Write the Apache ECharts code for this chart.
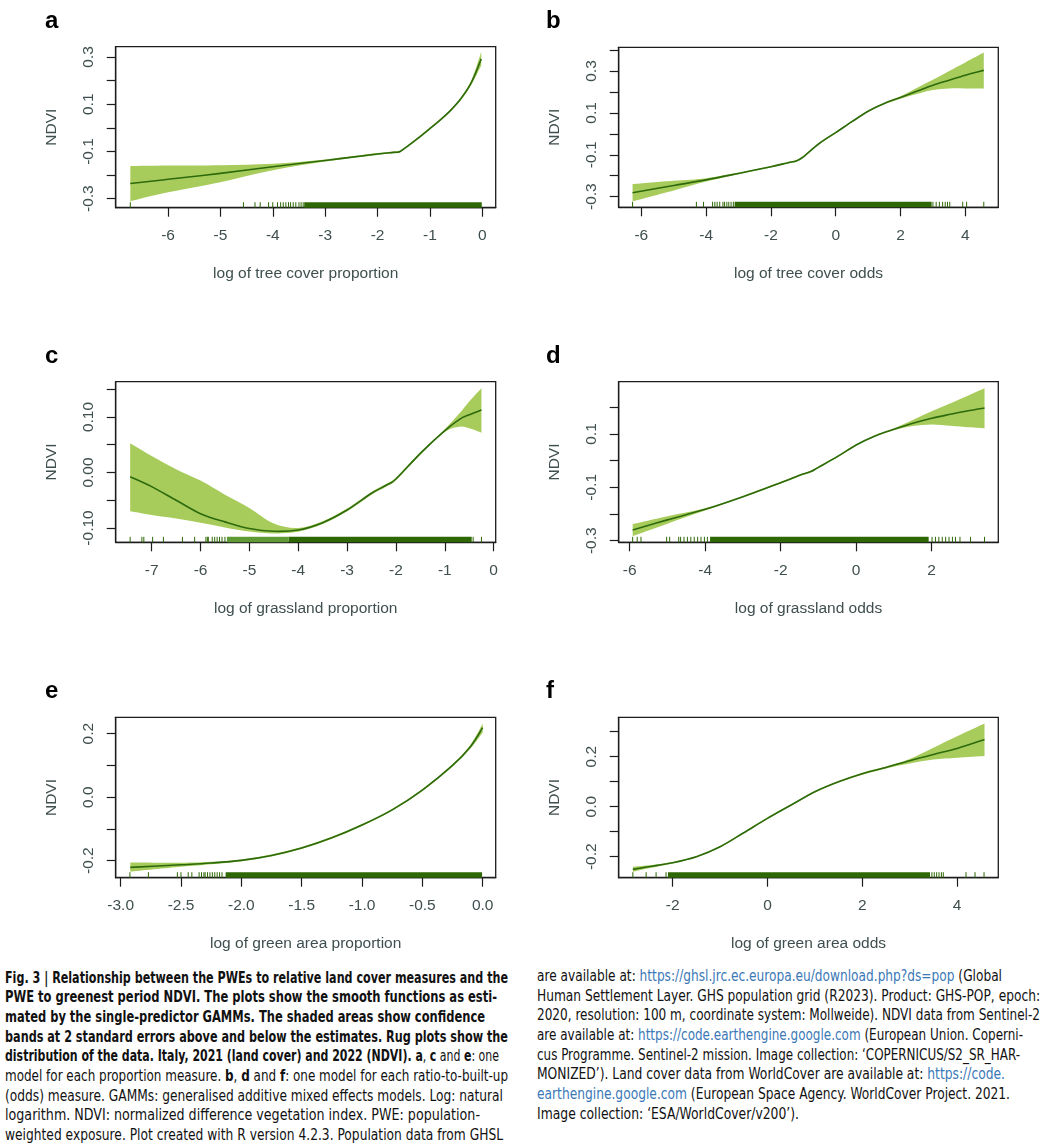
<!DOCTYPE html>
<html><head><meta charset="utf-8">
<script src="https://cdn.jsdelivr.net/npm/echarts@6/dist/echarts.min.js"></script>
<style>
html,body{margin:0;padding:0;background:#fff;}
#chart{position:absolute;left:0;top:0;width:1061px;height:960px;}
.cap{position:absolute;font-family:"Liberation Sans Narrow","DejaVu Sans Condensed","Liberation Sans",sans-serif;font-size:15px;line-height:19.7px;color:#111;}
.cap div{white-space:nowrap;transform-origin:0 50%;display:block;width:max-content;}
.cap b{font-weight:bold}
.cap .lk{color:#3a78b6}
</style></head><body>
<div id="chart"></div>
<div class="cap" id="capL" style="left:5px;top:968.5px;">
<div data-w="503"><b>Fig. 3 | Relationship between the PWEs to relative land cover measures and the</b></div>
<div data-w="492"><b>PWE to greenest period NDVI. The plots show the smooth functions as esti-</b></div>
<div data-w="480"><b>mated by the single-predictor GAMMs. The shaded areas show confidence</b></div>
<div data-w="503"><b>bands at 2 standard errors above and below the estimates. Rug plots show the</b></div>
<div data-w="494"><b>distribution of the data. Italy, 2021 (land cover) and 2022 (NDVI). a</b>, <b>c</b> and <b>e</b>: one</div>
<div data-w="503">model for each proportion measure. <b>b</b>, <b>d</b> and <b>f</b>: one model for each ratio-to-built-up</div>
<div data-w="498">(odds) measure. GAMMs: generalised additive mixed effects models. Log: natural</div>
<div data-w="475">logarithm. NDVI: normalized difference vegetation index. PWE: population-</div>
<div data-w="498">weighted exposure. Plot created with R version 4.2.3. Population data from GHSL</div>
</div>
<div class="cap" id="capR" style="left:537px;top:966.8px;">
<div data-w="465">are available at: <span class="lk">https://ghsl.jrc.ec.europa.eu/download.php?ds=pop</span> (Global</div>
<div data-w="503">Human Settlement Layer. GHS population grid (R2023). Product: GHS-POP, epoch:</div>
<div data-w="503">2020, resolution: 100 m, coordinate system: Mollweide). NDVI data from Sentinel-2</div>
<div data-w="486">are available at: <span class="lk">https://code.earthengine.google.com</span> (European Union. Coperni-</div>
<div data-w="483">cus Programme. Sentinel-2 mission. Image collection: ‘COPERNICUS/S2_SR_HAR-</div>
<div data-w="468">MONIZED’). Land cover data from WorldCover are available at: <span class="lk">https://code.</span></div>
<div data-w="473"><span class="lk">earthengine.google.com</span> (European Space Agency. WorldCover Project. 2021.</div>
<div data-w="262">Image collection: ‘ESA/WorldCover/v200’).</div>
</div>
<script>
// ---------------- DATA ----------------
const yTitle = 'NDVI';
// panel a: log of tree cover proportion
const aTitle = 'log of tree cover proportion';
const aX     = [-6.72, -6.0, -5.0, -4.0, -3.0, -2.0, -1.7, -1.57, -1.4, -1.2, -1.0, -0.8, -0.6, -0.4, -0.2, -0.02];
const aFit   = [-0.236, -0.218, -0.193, -0.165, -0.138, -0.111, -0.104, -0.100, -0.073, -0.039, -0.003, 0.034, 0.075, 0.126, 0.196, 0.292];
const aUpper = [-0.162, -0.160, -0.158, -0.152, -0.134, -0.107, -0.100, -0.096, -0.069, -0.035, 0.001, 0.038, 0.080, 0.132, 0.206, 0.322];
const aLower = [-0.311, -0.273, -0.230, -0.180, -0.143, -0.115, -0.108, -0.104, -0.077, -0.043, -0.007, 0.030, 0.070, 0.120, 0.186, 0.264];
const aRug   = [-6.72, -4.56, -4.34, -4.24, -4.08, -4.0, -3.91, -3.85, -3.8, -3.75, -3.7, -3.66, -3.61, -3.56, -3.5, -3.46, -3.42];
const aRugDense  = [[-3.40, -0.01]];
const aRugSparse = [];
const aXTicks = [-6, -5, -4, -3, -2, -1, 0];
const aYTicks = [-0.3, -0.2, -0.1, 0, 0.1, 0.2, 0.3];
const aYLabels = [-0.3, -0.1, 0.1, 0.3];

// panel b: log of tree cover odds
const bTitle = 'log of tree cover odds';
const bX     = [-6.27, -5.0, -4.0, -3.0, -2.0, -1.5, -1.2, -1.0, -0.9, -0.5, 0.0, 0.5, 1.0, 1.5, 2.0, 2.5, 3.0, 3.5, 4.0, 4.57];
const bFit   = [-0.281, -0.247, -0.220, -0.189, -0.157, -0.139, -0.128, -0.110, -0.097, -0.045, 0.006, 0.058, 0.108, 0.145, 0.174, 0.203, 0.232, 0.256, 0.280, 0.303];
const bUpper = [-0.240, -0.224, -0.212, -0.185, -0.153, -0.135, -0.124, -0.106, -0.093, -0.041, 0.010, 0.062, 0.112, 0.149, 0.180, 0.219, 0.258, 0.300, 0.341, 0.388];
const bLower = [-0.322, -0.270, -0.228, -0.193, -0.161, -0.143, -0.132, -0.114, -0.101, -0.049, 0.002, 0.054, 0.104, 0.141, 0.168, 0.190, 0.209, 0.217, 0.217, 0.217];
const bRug   = [-6.27, -4.30, -4.08, -3.80, -3.73, -3.66, -3.58, -3.48, -3.43, -3.36, -3.30, -3.23, -3.16, 3.0, 3.1, 3.2, 3.3, 3.38, 3.45, 3.52, 3.92, 4.04, 4.57];
const bRugDense  = [[-3.12, 2.96]];
const bRugSparse = [];
const bXTicks = [-6, -4, -2, 0, 2, 4];
const bYTicks = [-0.3, -0.2, -0.1, 0, 0.1, 0.2, 0.3, 0.4];
const bYLabels = [-0.3, -0.1, 0.1, 0.3];

// panel c: log of grassland proportion
const cTitle = 'log of grassland proportion';
const cX     = [-7.44, -7.0, -6.5, -6.0, -5.5, -5.0, -4.5, -4.0, -3.5, -3.0, -2.5, -2.2, -2.0, -1.5, -1.0, -0.7, -0.5, -0.25];
const cFit   = [-0.0075, -0.0255, -0.050, -0.0742, -0.089, -0.101, -0.106, -0.1036, -0.0904, -0.0676, -0.0375, -0.0231, -0.0117, 0.0345, 0.0754, 0.0958, 0.104, 0.1126];
const cUpper = [0.0526, 0.0297, 0.0060, -0.0145, -0.040, -0.064, -0.092, -0.100, -0.088, -0.065, -0.0350, -0.0206, -0.0092, 0.0370, 0.0780, 0.1066, 0.128, 0.1517];
const cLower = [-0.070, -0.0766, -0.083, -0.0905, -0.099, -0.1065, -0.110, -0.107, -0.093, -0.070, -0.0400, -0.0256, -0.0142, 0.0320, 0.0728, 0.0826, 0.0796, 0.0718];
const cRug   = [-7.44, -7.2, -7.16, -6.98, -6.76, -6.37, -6.12, -5.89, -5.86, -5.84, -5.76, -5.71, -5.66, -5.61, -5.56, -5.5, -0.42, -0.25];
const cRugDense  = [[-4.2, -0.45]];
const cRugSparse = [[-5.46, -4.2]];
const cXTicks = [-7, -6, -5, -4, -3, -2, -1, 0];
const cYTicks = [-0.10, -0.05, 0, 0.05, 0.10, 0.15];
const cYLabels = [-0.10, 0, 0.10];

// panel d: log of grassland odds
const dTitle = 'log of grassland odds';
const dX     = [-5.92, -5.0, -4.0, -3.0, -2.0, -1.5, -1.2, -1.0, -0.5, 0.0, 0.5, 1.0, 1.5, 2.0, 2.5, 3.0, 3.4];
const dFit   = [-0.260, -0.222, -0.1825, -0.135, -0.0825, -0.055, -0.041, -0.025, 0.015, 0.059, 0.0925, 0.1175, 0.140, 0.159, 0.174, 0.188, 0.1975];
const dUpper = [-0.2375, -0.208, -0.178, -0.132, -0.0795, -0.052, -0.038, -0.022, 0.018, 0.062, 0.0955, 0.121, 0.1525, 0.185, 0.215, 0.246, 0.271];
const dLower = [-0.2825, -0.236, -0.187, -0.138, -0.0855, -0.058, -0.044, -0.028, 0.012, 0.056, 0.0895, 0.114, 0.130, 0.136, 0.131, 0.125, 0.121];
const dRug   = [-5.92, -5.80, -5.70, -5.02, -4.94, -4.70, -4.65, -4.56, -4.47, -4.38, -4.29, -4.2, -4.11, -4.02, -3.94, 2.01, 2.1, 2.19, 2.28, 2.37, 2.46, 2.55, 2.63, 2.75, 3.03, 3.40];
const dRugDense  = [[-3.87, 1.92]];
const dRugSparse = [];
const dXTicks = [-6, -4, -2, 0, 2];
const dYTicks = [-0.3, -0.2, -0.1, 0, 0.1, 0.2];
const dYLabels = [-0.3, -0.1, 0.1];

// panel e: log of green area proportion
const eTitle = 'log of green area proportion';
const eX     = [-2.92, -2.5, -2.25, -2.0, -1.75, -1.5, -1.25, -1.0, -0.75, -0.5, -0.25, -0.1, 0.0];
const eFit   = [-0.221, -0.213, -0.2075, -0.199, -0.1835, -0.160, -0.128, -0.0877, -0.040, 0.0225, 0.100, 0.160, 0.219];
const eUpper = [-0.206, -0.2065, -0.2035, -0.196, -0.1805, -0.157, -0.125, -0.0847, -0.037, 0.0255, 0.104, 0.166, 0.232];
const eLower = [-0.2347, -0.2195, -0.2115, -0.202, -0.1865, -0.163, -0.131, -0.0907, -0.043, 0.0195, 0.096, 0.154, 0.204];
const eRug   = [-2.923, -2.77, -2.53, -2.50, -2.44, -2.41, -2.35, -2.33, -2.31, -2.30, -2.28, -2.26, -2.24, -2.22, -2.20, -2.18, -2.16];
const eRugDense  = [[-2.13, -0.005]];
const eRugSparse = [];
const eXTicks = [-3.0, -2.5, -2.0, -1.5, -1.0, -0.5, 0.0];
const eYTicks = [-0.2, -0.1, 0, 0.1, 0.2];
const eYLabels = [-0.2, 0, 0.2];

// panel f: log of green area odds
const fTitle = 'log of green area odds';
const fX     = [-2.84, -2.5, -2.0, -1.5, -1.0, -0.5, 0.0, 0.5, 1.0, 1.5, 2.0, 2.5, 3.0, 3.5, 4.0, 4.58];
const fFit   = [-0.2507, -0.240, -0.224, -0.200, -0.160, -0.104, -0.0467, 0.0067, 0.060, 0.100, 0.132, 0.157, 0.184, 0.209, 0.233, 0.269];
const fUpper = [-0.240, -0.234, -0.221, -0.197, -0.157, -0.101, -0.0437, 0.0097, 0.063, 0.103, 0.136, 0.161, 0.191, 0.236, 0.282, 0.333];
const fLower = [-0.260, -0.246, -0.227, -0.203, -0.163, -0.107, -0.0497, 0.0037, 0.057, 0.097, 0.128, 0.153, 0.173, 0.189, 0.196, 0.203];
const fRug   = [-2.84, -2.56, -2.35, -2.14, 3.47, 3.52, 3.57, 3.62, 3.67, 3.71, 4.19, 4.38, 4.57];
const fRugDense  = [[-2.1, 3.43]];
const fRugSparse = [];
const fXTicks = [-2, 0, 2, 4];
const fYTicks = [-0.2, -0.1, 0, 0.1, 0.2, 0.3];
const fYLabels = [-0.2, 0, 0.2];

const panelLetters = ['a', 'b', 'c', 'd', 'e', 'f'];

// ---------------- LAYOUT / STYLE ----------------
const layout = [
  {left:115.7, top:46.7,  width:380,   height:161,   xMin:-6.999, xMax:0.256, yMin:-0.3382, yMax:0.3436, xDec:0, yDec:1, lx:45,  ly:9.5},
  {left:618.7, top:47.3,  width:379.6, height:160,   xMin:-6.698, xMax:5.018, yMin:-0.3508, yMax:0.4132, xDec:0, yDec:1, lx:546, ly:9.5},
  {left:115.7, top:381.7, width:380,   height:160.6, xMin:-7.736, xMax:0.0415, yMin:-0.1258, yMax:0.1636, xDec:0, yDec:2, lx:45,  ly:344.5},
  {left:618.7, top:381.7, width:379.6, height:160.6, xMin:-6.29,  xMax:3.765, yMin:-0.306,  yMax:0.296,  xDec:0, yDec:1, lx:546, ly:344.5},
  {left:115.7, top:717.3, width:380,   height:160.4, xMin:-3.041, xMax:0.108, yMin:-0.2536, yMax:0.2516, xDec:1, yDec:1, lx:45,  ly:679.5},
  {left:618.7, top:717.3, width:379.6, height:160.4, xMin:-3.139, xMax:4.871, yMin:-0.284,  yMax:0.3575, xDec:0, yDec:1, lx:546, ly:679.5}
];
const bandColor = '#a8cc5c', lineColor = '#2c6a0c', rugColor = '#2e6805', rugLight = '#5f9a35';
const axisColor = '#1c1c1c', textColor = '#3f4e4e', fontFam = '"Liberation Sans", Arial, sans-serif';

const panels = [
  {x:aX, fit:aFit, up:aUpper, lo:aLower, rug:aRug, dense:aRugDense, sparse:aRugSparse, xTicks:aXTicks, yTicks:aYTicks, yLabels:aYLabels, xTitle:aTitle},
  {x:bX, fit:bFit, up:bUpper, lo:bLower, rug:bRug, dense:bRugDense, sparse:bRugSparse, xTicks:bXTicks, yTicks:bYTicks, yLabels:bYLabels, xTitle:bTitle},
  {x:cX, fit:cFit, up:cUpper, lo:cLower, rug:cRug, dense:cRugDense, sparse:cRugSparse, xTicks:cXTicks, yTicks:cYTicks, yLabels:cYLabels, xTitle:cTitle},
  {x:dX, fit:dFit, up:dUpper, lo:dLower, rug:dRug, dense:dRugDense, sparse:dRugSparse, xTicks:dXTicks, yTicks:dYTicks, yLabels:dYLabels, xTitle:dTitle},
  {x:eX, fit:eFit, up:eUpper, lo:eLower, rug:eRug, dense:eRugDense, sparse:eRugSparse, xTicks:eXTicks, yTicks:eYTicks, yLabels:eYLabels, xTitle:eTitle},
  {x:fX, fit:fFit, up:fUpper, lo:fLower, rug:fRug, dense:fRugDense, sparse:fRugSparse, xTicks:fXTicks, yTicks:fYTicks, yLabels:fYLabels, xTitle:fTitle}
];

// Catmull-Rom spline through pixel points -> SVG path segments
function splineSegs(pts, moveFirst) {
  let d = moveFirst ? 'M' + pts[0][0] + ' ' + pts[0][1] : 'L' + pts[0][0] + ' ' + pts[0][1];
  for (let i = 0; i < pts.length - 1; i++) {
    const p0 = pts[Math.max(i - 1, 0)], p1 = pts[i], p2 = pts[i + 1], p3 = pts[Math.min(i + 2, pts.length - 1)];
    const c1 = [p1[0] + (p2[0] - p0[0]) / 6, p1[1] + (p2[1] - p0[1]) / 6];
    const c2 = [p2[0] - (p3[0] - p1[0]) / 6, p2[1] - (p3[1] - p1[1]) / 6];
    d += ' C' + c1[0] + ' ' + c1[1] + ' ' + c2[0] + ' ' + c2[1] + ' ' + p2[0] + ' ' + p2[1];
  }
  return d;
}

const option = {animation:false, grid:[], xAxis:[], yAxis:[], series:[], graphic:[]};
const RUG_LEN = 5.5;

panels.forEach((P, i) => {
  const L = layout[i];
  option.grid.push({left:L.left, top:L.top, width:L.width, height:L.height, show:true,
    borderColor:axisColor, borderWidth:1.3, backgroundColor:'transparent', containLabel:false, outerBoundsMode:'none'});
  const nameStyle = {fontSize:15.5, color:textColor, fontFamily:fontFam};
  option.xAxis.push({type:'value', gridIndex:i, min:L.xMin, max:L.xMax,
    name:P.xTitle, nameLocation:'middle', nameGap:58, nameTextStyle:nameStyle, nameMoveOverlap:false,
    axisLine:{show:true, onZero:false, lineStyle:{color:axisColor, width:1.3}},
    splitLine:{show:false},
    axisTick:{show:true, inside:false, length:9, customValues:P.xTicks, lineStyle:{color:axisColor, width:1.2}},
    axisLabel:{show:true, customValues:P.xTicks, margin:20, fontSize:15.5, color:textColor, fontFamily:fontFam,
      formatter:v => Number(v).toFixed(L.xDec)}});
  option.yAxis.push({type:'value', gridIndex:i, min:L.yMin, max:L.yMax,
    name:yTitle, nameLocation:'middle', nameGap:56, nameTextStyle:nameStyle, nameMoveOverlap:false,
    axisLine:{show:true, onZero:false, lineStyle:{color:axisColor, width:1.3}},
    splitLine:{show:false},
    axisTick:{show:true, inside:false, length:9, customValues:P.yTicks, lineStyle:{color:axisColor, width:1.2}},
    axisLabel:{show:true, customValues:P.yLabels, rotate:90, margin:19, fontSize:15.5, color:textColor, fontFamily:fontFam,
      formatter:v => Number(v).toFixed(L.yDec)}});

  // confidence band
  option.series.push({type:'custom', xAxisIndex:i, yAxisIndex:i, silent:true, z:2, clip:false,
    data:P.x.map((x, k) => [x, P.lo[k], P.up[k]]), encode:{x:0, y:[1, 2]},
    renderItem:(params, api) => {
      if (params.dataIndex !== 0) return null;
      const up = P.x.map((x, k) => api.coord([x, P.up[k]]));
      const lo = P.x.map((x, k) => api.coord([x, P.lo[k]])).reverse();
      const d = splineSegs(up, true) + ' ' + splineSegs(lo, false) + ' Z';
      return {type:'path', shape:{pathData:d}, style:{fill:bandColor, stroke:null}};
    }});
  // fitted smooth
  option.series.push({type:'custom', xAxisIndex:i, yAxisIndex:i, silent:true, z:3, clip:false,
    data:P.x.map((x, k) => [x, P.fit[k]]), encode:{x:0, y:1},
    renderItem:(params, api) => {
      if (params.dataIndex !== 0) return null;
      const pts = P.x.map((x, k) => api.coord([x, P.fit[k]]));
      return {type:'path', shape:{pathData:splineSegs(pts, true)}, style:{fill:null, stroke:lineColor, lineWidth:1.6}};
    }});
  // rug ticks
  option.series.push({type:'custom', xAxisIndex:i, yAxisIndex:i, silent:true, z:4, clip:false,
    data:P.rug.map(v => [v, L.yMin]), encode:{x:0, y:1},
    renderItem:(params, api) => {
      const p = api.coord([api.value(0), api.value(1)]);
      return {type:'line', shape:{x1:p[0], y1:p[1], x2:p[0], y2:p[1] - RUG_LEN}, style:{stroke:rugColor, lineWidth:1}};
    }});
  // dense rug ranges
  const rangeSeries = (arr, color) => ({type:'custom', xAxisIndex:i, yAxisIndex:i, silent:true, z:4, clip:false,
    data:arr.map(r => [r[0], r[1], L.yMin]), encode:{x:[0, 1], y:2},
    renderItem:(params, api) => {
      const p0 = api.coord([api.value(0), api.value(2)]);
      const p1 = api.coord([api.value(1), api.value(2)]);
      return {type:'rect', shape:{x:p0[0], y:p0[1] - RUG_LEN, width:p1[0] - p0[0], height:RUG_LEN}, style:{fill:color}};
    }});
  if (P.dense.length) option.series.push(rangeSeries(P.dense, rugColor));
  if (P.sparse.length) option.series.push(rangeSeries(P.sparse, rugLight));

  option.graphic.push({type:'text', left:L.lx, top:L.ly, z:10,
    style:{text:panelLetters[i], font:'bold 24px "Liberation Sans", Arial, sans-serif', fill:'#000'}});
});

const chart = echarts.init(document.getElementById('chart'), null, {renderer:'canvas'});
chart.setOption(option);

// fit caption lines to their measured widths
document.querySelectorAll('.cap div').forEach(el => {
  const target = parseFloat(el.getAttribute('data-w'));
  const w = el.getBoundingClientRect().width;
  if (w > 0 && target) el.style.transform = 'scaleX(' + (target / w) + ')';
});
</script>
</body></html>
